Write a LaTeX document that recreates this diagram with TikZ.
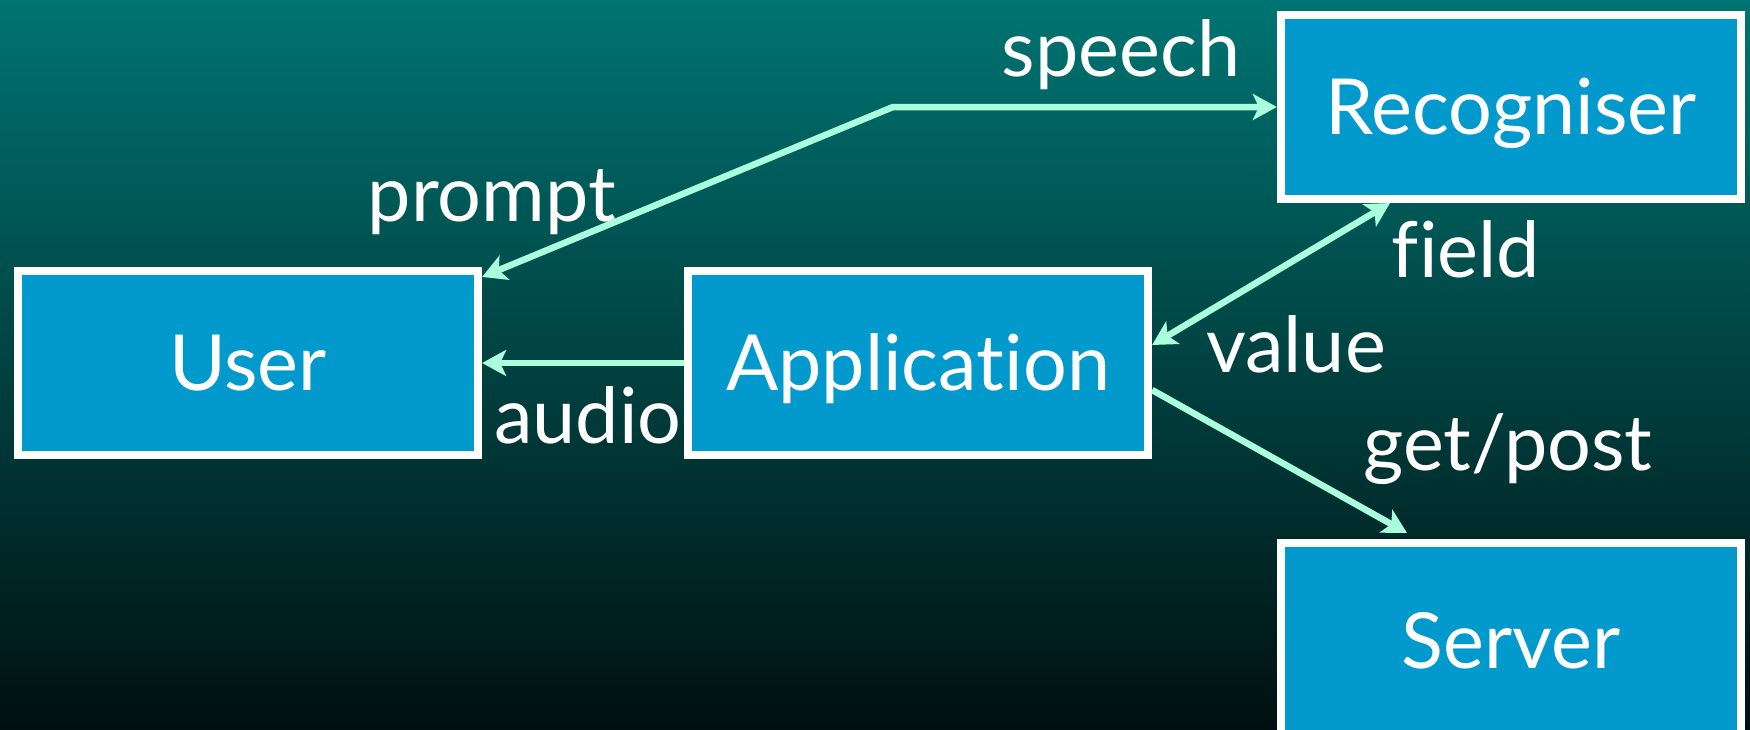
\documentclass[tikz,border=0pt]{standalone}
\usepackage{fontspec}
\setmainfont{Lato}[Ligatures=NoCommon]
\usepackage{tikz}
\usetikzlibrary{calc}
\usetikzlibrary{arrows.meta}
\usetikzlibrary{positioning}
\definecolor{deepteal}{RGB}{0, 116, 114}
\definecolor{nightteal}{RGB}{0, 16, 16}
\definecolor{cerulean}{RGB}{2, 153, 204}
\definecolor{mint}{RGB}{170, 255, 220}

\begin{document}
\begin{tikzpicture}[x=0.01cm, y=0.01cm,
    >={Stealth[length=0.24cm, width=0.26cm, inset=0.06cm]},
    box/.style={draw=white, fill=cerulean, line width=0.08cm, minimum width=4.6cm, minimum height=1.84cm,
                text=white, font=\fontsize{22}{27}\selectfont, text height=15.8pt, text depth=0pt},
    link/.style={mint, line width=0.065cm},
    lbl/.style={text=white, font=\fontsize{22}{27}\selectfont, anchor=base, inner sep=0pt}]
            \useasboundingbox (0,0) rectangle (1750,729);
            \clip (0,0) rectangle (1750,729);
            \shade[top color=deepteal, bottom color=nightteal] (0,0) rectangle (1750,729);
            % the four blocks
            \node[box]                          (user) at ( 248, 366) {User};
            \node[box]                          (app)  at ( 918, 366) {Application};
            \node[box]                          (rec)  at (1511, 622) {Recogniser};
            \node[box, minimum height=1.96cm]   (srv)  at (1511,  88) {Server};
            \coordinate                         (fork) at ( 893, 622);
            % connectors
            \draw[link, <->] ($(user.north east)+(0,-10)$) -- (fork) -- (rec.west);
            \draw[link, ->]  (app.west) -- (user.east);
            \draw[link, <->] ($(app.east)+(0,18)$) -- ($(rec.south)+(-121,0)$);
            \draw[link, ->]  ($(app.east)+(0,-27)$) -- ($(srv.north)+(-104,6)$);
            % labels
            \node[lbl] (speechlbl) at (1121, 653) {speech};
            \node[lbl] (promptlbl) at ( 492, 508) {prompt};
            \node[lbl] (audiolbl)  at ( 588, 286) {audio};
            \node[lbl] (fieldlbl)  at (1466, 452) {field};
            \node[lbl] (valuelbl)  at (1296, 357) {value};
            \node[lbl] (getlbl)    at (1508, 259) {get/post};
        \end{tikzpicture}
\end{document}
